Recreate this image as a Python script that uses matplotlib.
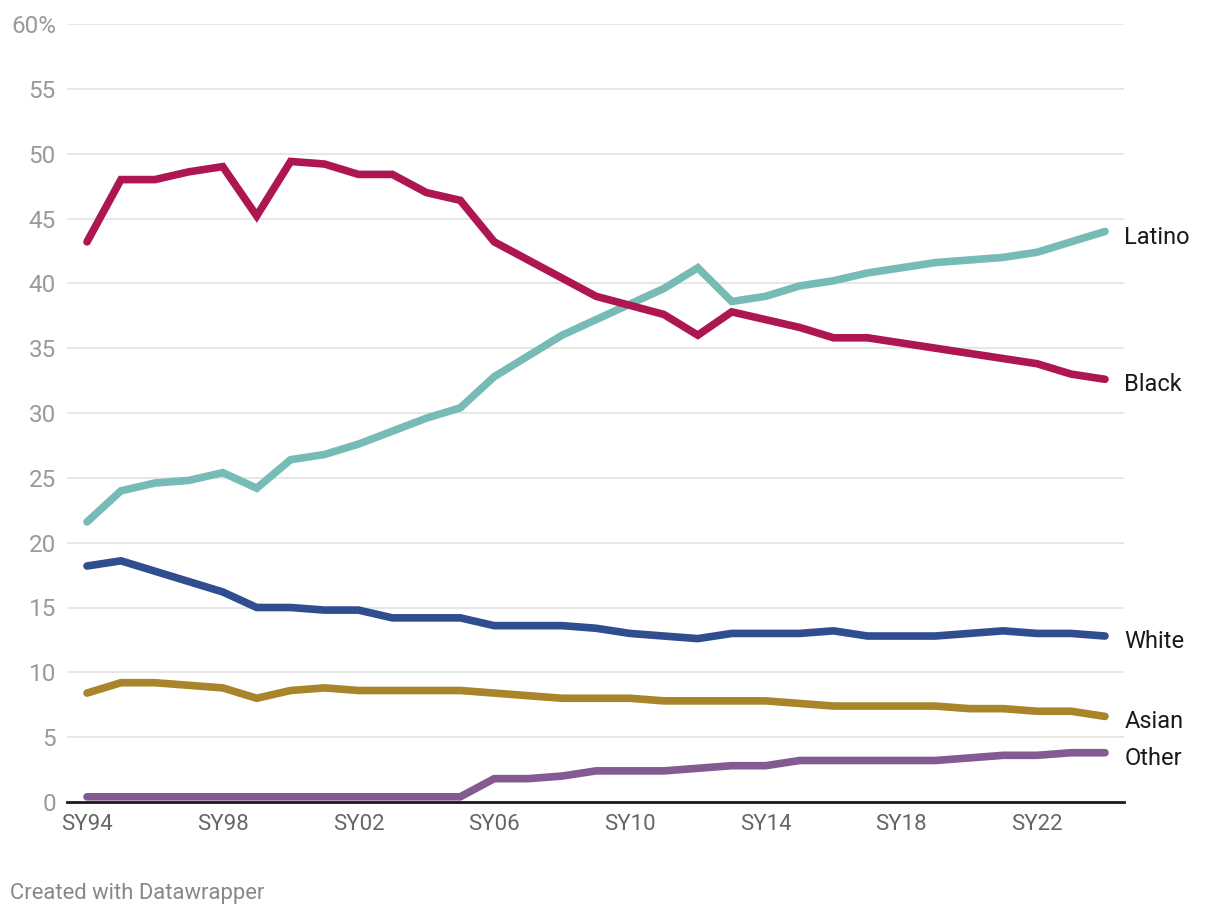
import numpy as np
import matplotlib.pyplot as plt

plt.rcParams['font.family'] = ['Roboto', 'DejaVu Sans']

years = list(range(1994, 2025))
tick_years = [1994, 1998, 2002, 2006, 2010, 2014, 2018, 2022]
tick_labels = ["SY94", "SY98", "SY02", "SY06", "SY10", "SY14", "SY18", "SY22"]

black = [43.2, 48.0, 48.0, 48.6, 49.0, 45.2, 49.4, 49.2, 48.4, 48.4, 47.0,
         46.4, 43.2, 41.8, 40.4, 39.0, 38.3, 37.6, 36.0, 37.8, 37.2, 36.6,
         35.8, 35.8, 35.4, 35.0, 34.6, 34.2, 33.8, 33.0, 32.6]
latino = [21.6, 24.0, 24.6, 24.8, 25.4, 24.2, 26.4, 26.8, 27.6, 28.6, 29.6,
          30.4, 32.8, 34.4, 36.0, 37.2, 38.4, 39.6, 41.2, 38.6, 39.0, 39.8,
          40.2, 40.8, 41.2, 41.6, 41.8, 42.0, 42.4, 43.2, 44.0]
white = [18.2, 18.6, 17.8, 17.0, 16.2, 15.0, 15.0, 14.8, 14.8, 14.2, 14.2,
         14.2, 13.6, 13.6, 13.6, 13.4, 13.0, 12.8, 12.6, 13.0, 13.0, 13.0,
         13.2, 12.8, 12.8, 12.8, 13.0, 13.2, 13.0, 13.0, 12.8]
asian = [8.4, 9.2, 9.2, 9.0, 8.8, 8.0, 8.6, 8.8, 8.6, 8.6, 8.6,
         8.6, 8.4, 8.2, 8.0, 8.0, 8.0, 7.8, 7.8, 7.8, 7.8, 7.6,
         7.4, 7.4, 7.4, 7.4, 7.2, 7.2, 7.0, 7.0, 6.6]
other = [0.4, 0.4, 0.4, 0.4, 0.4, 0.4, 0.4, 0.4, 0.4, 0.4, 0.4,
         0.4, 1.8, 1.8, 2.0, 2.4, 2.4, 2.4, 2.6, 2.8, 2.8, 3.2,
         3.2, 3.2, 3.2, 3.2, 3.4, 3.6, 3.6, 3.8, 3.8]

series = [
    ("Latino", latino, "#76bbb6"),
    ("Black", black, "#ad1650"),
    ("White", white, "#2f4d8f"),
    ("Asian", asian, "#a8852a"),
    ("Other", other, "#845a92"),
]

fig = plt.figure(figsize=(12.2, 9.18), dpi=100)
ax = fig.add_axes([67 / 1220, 116 / 918, (1124 - 67) / 1220, (802 - 24) / 918])

for name, vals, col in series:
    ax.plot(years, vals, color=col, lw=5.5, solid_capstyle='round',
            solid_joinstyle='miter', zorder=3)
    ax.annotate(name, xy=(years[-1], vals[-1]), xytext=(14, -4),
                textcoords='offset points', va='center', ha='left',
                fontsize=17, color='#1a1a1a', annotation_clip=False)

ax.set_xlim(93.41 + 1900, 124.56 + 1900)
ax.set_ylim(0, 60)

yt = list(range(0, 61, 5))
ax.set_yticks(yt)
ax.set_yticklabels([f"{v}%" if v == 60 else str(v) for v in yt])
ax.set_xticks(tick_years)
ax.set_xticklabels(tick_labels)

ax.grid(axis='y', color='#e3e3e3', lw=1.2, zorder=0)
ax.grid(axis='x', visible=False)
for s in ['top', 'right', 'left']:
    ax.spines[s].set_visible(False)
ax.spines['bottom'].set_color('#1a1a1a')
ax.spines['bottom'].set_linewidth(2)
ax.spines['bottom'].set_zorder(4)

ax.tick_params(axis='y', length=0, pad=8, labelsize=17.5, labelcolor='#9a9a9a')
ax.tick_params(axis='x', length=0, pad=9, labelsize=16, labelcolor='#666666')

fig.text(10 / 1220, 1 - 893 / 918, "Created with Datawrapper", fontsize=15.8,
         color='#888888', va='center', ha='left')

fig.savefig("out.png", dpi=100)
